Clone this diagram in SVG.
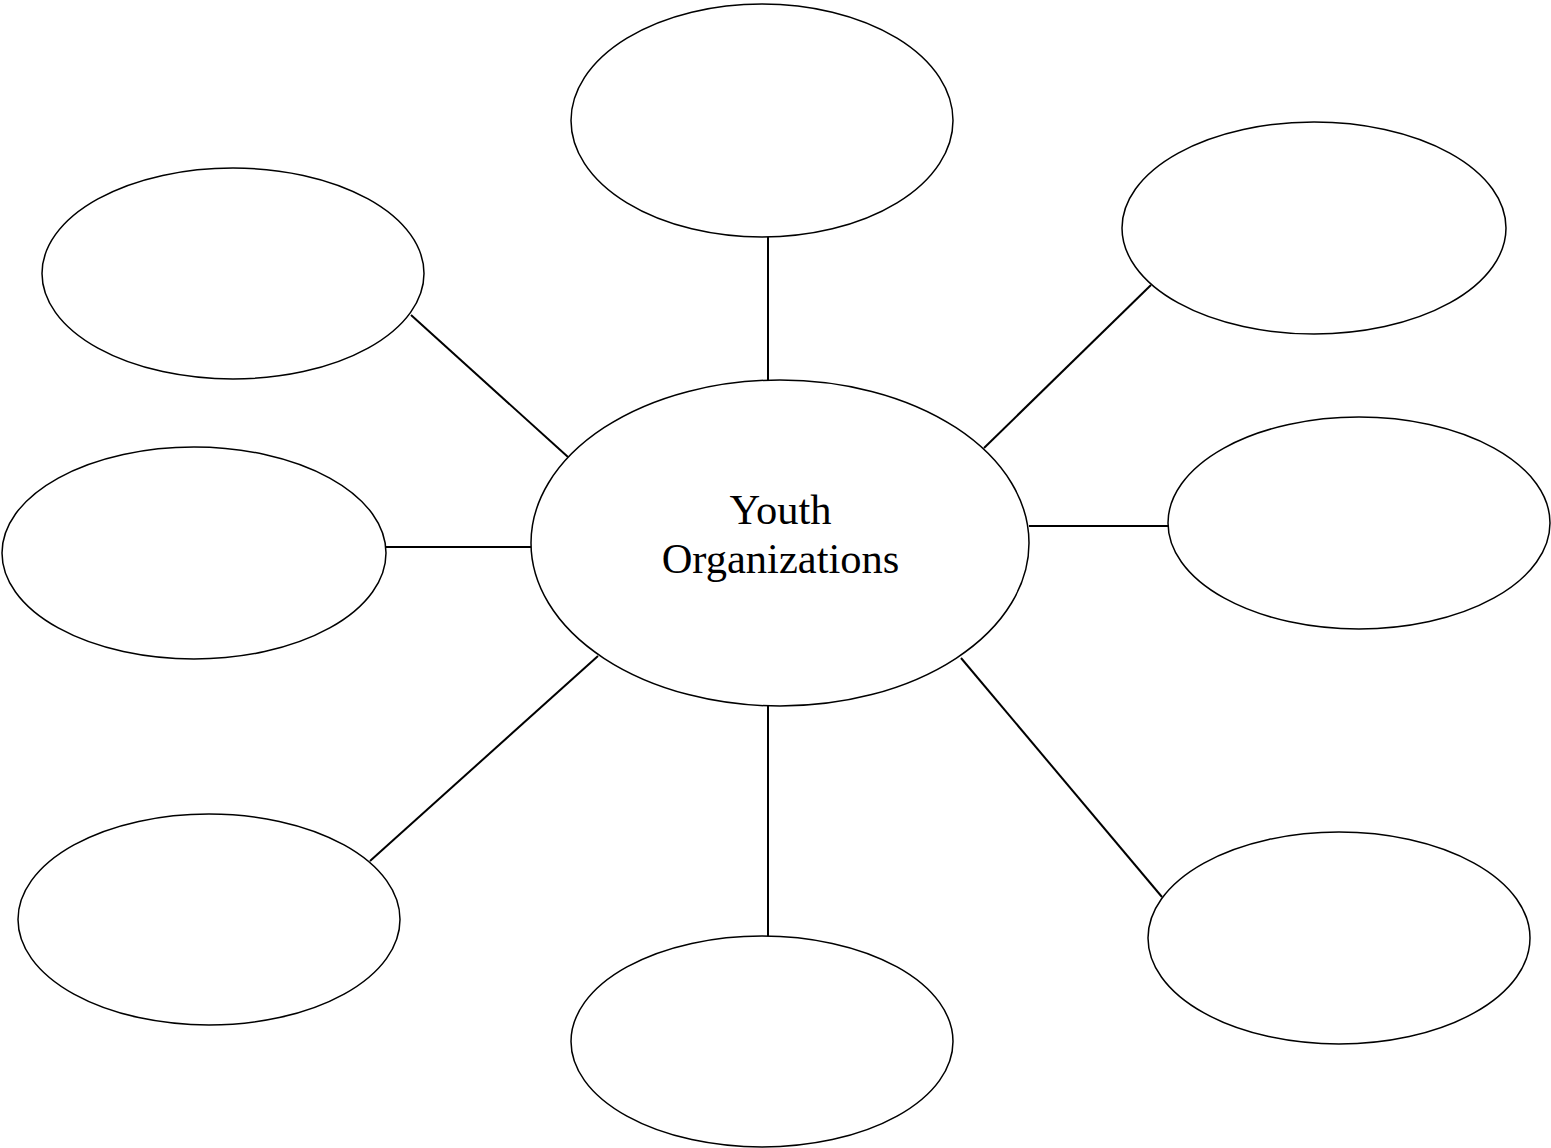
<svg xmlns="http://www.w3.org/2000/svg" width="1551" height="1148" viewBox="0 0 1551 1148">
<style>
.n{fill:#fff;stroke:#000;stroke-width:1.5}
.c line{stroke:#000;stroke-width:2}
.t{font-family:"Liberation Serif","Times New Roman",serif;font-size:42.5px;text-anchor:middle;fill:#000}
</style>
<rect width="1551" height="1148" fill="#fff"/>
<g class="c" id="connectors">
<line x1="768" y1="237" x2="768" y2="380"/>
<line x1="411" y1="315" x2="568" y2="457"/>
<line x1="1151" y1="285" x2="984" y2="448"/>
<line x1="386" y1="547" x2="531" y2="547"/>
<line x1="1029" y1="526" x2="1168" y2="526"/>
<line x1="598" y1="656" x2="370" y2="861"/>
<line x1="768" y1="706" x2="768" y2="937"/>
<line x1="961" y1="658" x2="1162" y2="897"/>
</g>
<g id="center"><ellipse class="n" cx="780" cy="543" rx="249" ry="163"/>
<text class="t" x="780.5" y="524">Youth</text>
<text class="t" x="780.5" y="573">Organizations</text></g>
<g id="top"><ellipse class="n" cx="762" cy="120.5" rx="191" ry="116.5"/></g>
<g id="top-left"><ellipse class="n" cx="233" cy="273.5" rx="191" ry="105.5"/></g>
<g id="top-right"><ellipse class="n" cx="1314" cy="228" rx="192" ry="106"/></g>
<g id="left"><ellipse class="n" cx="194" cy="553" rx="192" ry="106"/></g>
<g id="right"><ellipse class="n" cx="1359" cy="523" rx="191" ry="106"/></g>
<g id="bottom-left"><ellipse class="n" cx="209" cy="919.5" rx="191" ry="105.5"/></g>
<g id="bottom"><ellipse class="n" cx="762" cy="1041.5" rx="191" ry="105.5"/></g>
<g id="bottom-right"><ellipse class="n" cx="1339" cy="938" rx="191" ry="106"/></g>
</svg>
